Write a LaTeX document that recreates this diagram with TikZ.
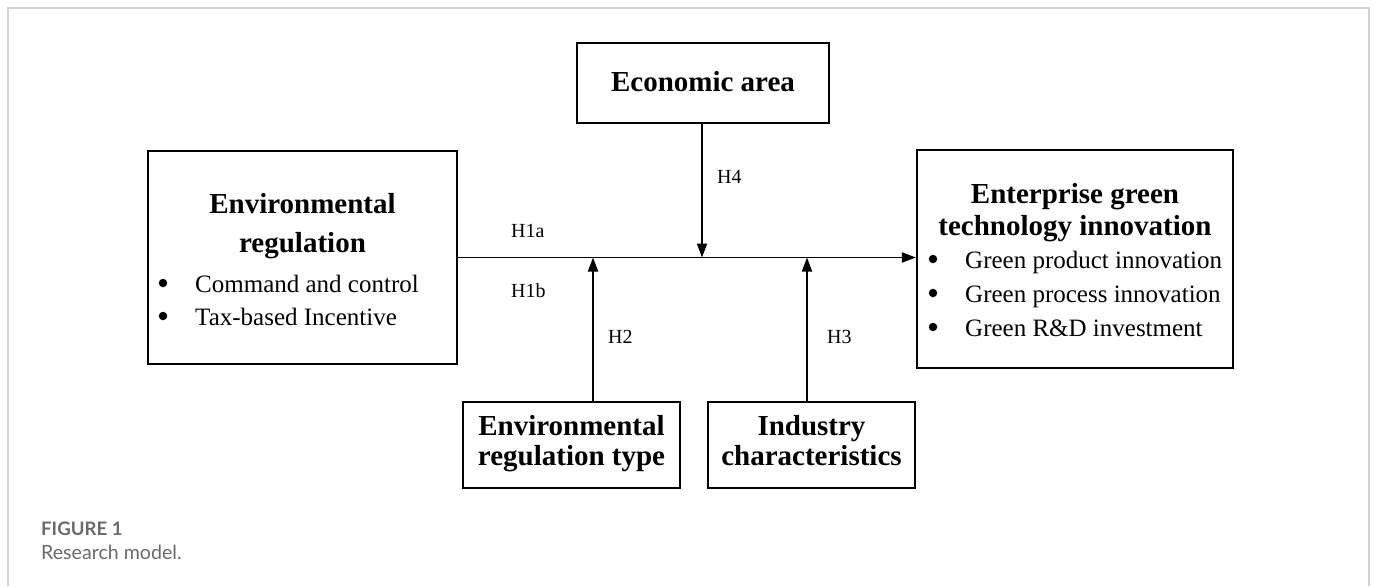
\documentclass[tikz,border=0pt]{standalone}
\usepackage{fontspec}
\setmainfont{Liberation Serif}
\newfontfamily\capfont{Lato}
\usetikzlibrary{arrows.meta}
\definecolor{framegray}{HTML}{D2D2D2}
\definecolor{capgray}{HTML}{6A6A6A}
\tikzset{
  boxnode/.style={draw=black, line width=2.2pt, rectangle, inner sep=0pt},
  arr/.style={line width=1.8pt, -{Triangle[length=14pt,width=10pt]}},
  titletext/.style={font=\fontsize{29}{30}\selectfont\bfseries, anchor=base, inner sep=0pt},
  bodytext/.style={font=\fontsize{25}{30}\selectfont, anchor=base west, inner sep=0pt},
  bulletdot/.style={circle, fill=black, inner sep=0pt, minimum size=8.5pt},
  hlabel/.style={font=\fontsize{20}{24}\selectfont, anchor=base west, inner sep=0pt},
}
\begin{document}
\begin{tikzpicture}[x=1pt,y=-1pt]
\useasboundingbox (0,0) rectangle (1375,586);
% outer frame
\draw[framegray, line width=2pt] (8,586) -- (8,8) -- (1369,8) -- (1369,586);

% boxes
\node[boxnode, minimum width=309pt, minimum height=213pt] (left) at (302.5,257.5) {};
\node[boxnode, minimum width=316pt, minimum height=218pt] (right) at (1075,259) {};
\node[boxnode, minimum width=252pt, minimum height=80pt] (econ) at (703,83) {};
\node[boxnode, minimum width=217pt, minimum height=86pt] (envtype) at (571.5,445) {};
\node[boxnode, minimum width=207pt, minimum height=86pt] (industry) at (811.5,445) {};

% left box texts
\node[titletext] (l1) at (302.5,213) {Environmental};
\node[titletext] (l2) at (302.5,252) {regulation};
\node[bulletdot] (lb1) at (163,283) {};
\node[bodytext] (lt1) at (195,292) {Command and control};
\node[bulletdot] (lb2) at (163,316) {};
\node[bodytext] (lt2) at (195,325) {Tax-based Incentive};

% right box texts
\node[titletext] (r1) at (1075,203) {Enterprise green};
\node[titletext] (r2) at (1075,235) {technology innovation};
\node[bulletdot] (rb1) at (933,259) {};
\node[bodytext] (rt1) at (965,268) {Green product innovation};
\node[bulletdot] (rb2) at (933,293) {};
\node[bodytext] (rt2) at (965,302) {Green process innovation};
\node[bulletdot] (rb3) at (933,327) {};
\node[bodytext] (rt3) at (965,336) {Green R\&D investment};

% other box texts
\node[titletext] (e1) at (703,92) {Economic area};
\node[titletext] (t1) at (571.5,435) {Environmental};
\node[titletext] (t2) at (571.5,465) {regulation type};
\node[titletext] (i1) at (811.5,435) {Industry};
\node[titletext] (i2) at (811.5,465) {characteristics};

% connectors
\coordinate (h2x) at (593,0);
\coordinate (h3x) at (807,0);
\coordinate (h4x) at (702,0);
\draw[arr] (left.east) -- (left.east -| right.west);
\draw[arr] (h4x |- econ.south) -- (h4x |- left.east);
\draw[arr] (h2x |- envtype.north) -- (h2x |- left.east);
\draw[arr] (h3x |- industry.north) -- (h3x |- left.east);

% labels
\node[hlabel] (h1a) at (511,237) {H1a};
\node[hlabel] (h1b) at (511,297) {H1b};
\node[hlabel] (h2) at (608,343) {H2};
\node[hlabel] (h3) at (827,343) {H3};
\node[hlabel] (h4) at (717,183) {H4};

% caption
\node[font=\capfont\bfseries\fontsize{18.6}{20}\selectfont, text=capgray, anchor=base west, inner sep=0pt] (fig) at (41,535) {FIGURE 1};
\node[font=\capfont\fontsize{19.6}{22}\selectfont, text=capgray, anchor=base west, inner sep=0pt] (cap) at (41,559) {Research model.};
\end{tikzpicture}
\end{document}
